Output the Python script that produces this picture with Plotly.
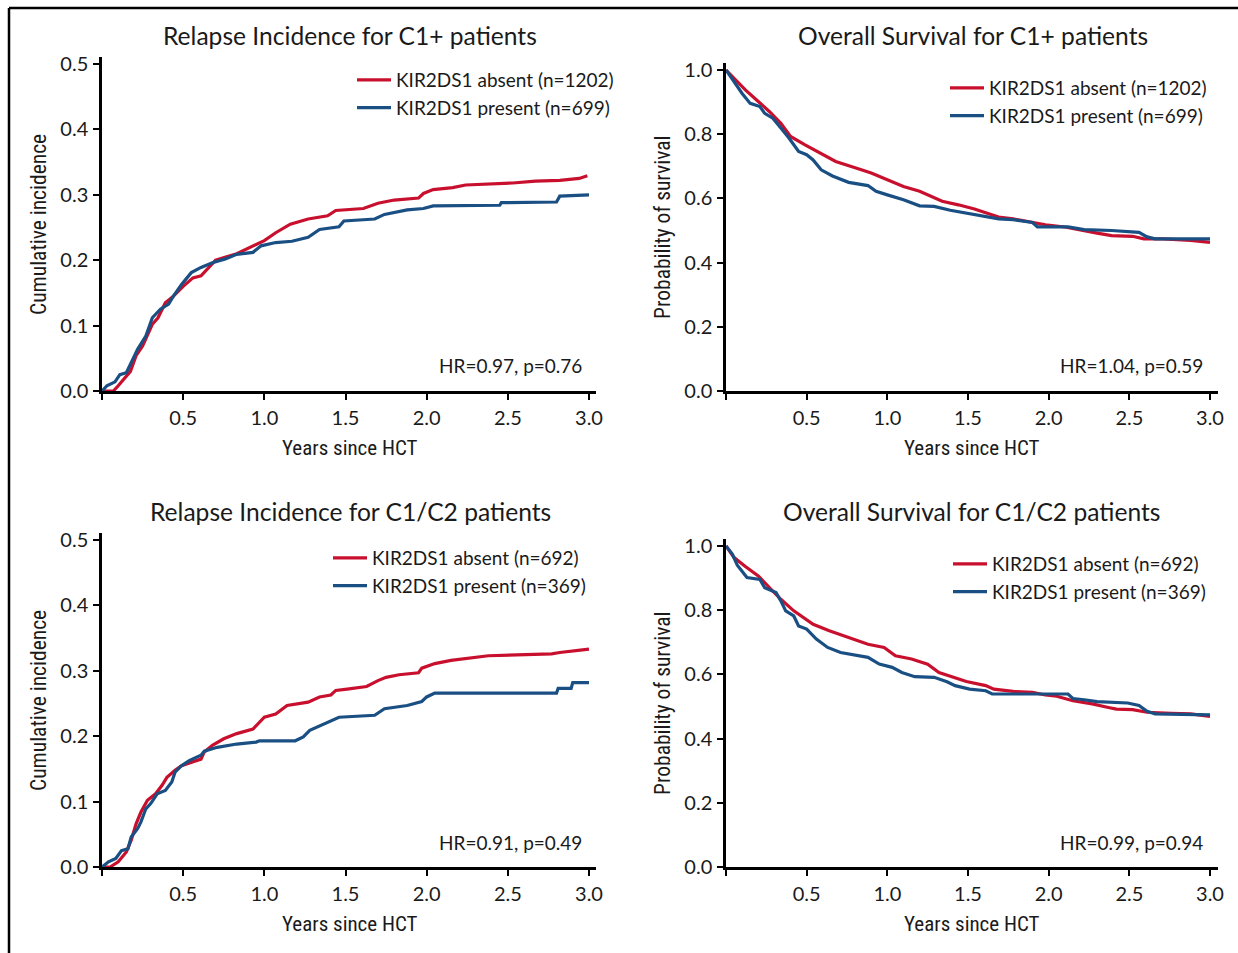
import plotly.graph_objects as go

W, H = 1238, 953

# ---------------- data ----------------
years_ticks = [0, 0.5, 1.0, 1.5, 2.0, 2.5, 3.0]
years_ticktext = ["", "0.5", "1.0", "1.5", "2.0", "2.5", "3.0"]

# Relapse, C1+
ri_c1_absent_t = [0, 0.07, 0.10, 0.175, 0.21, 0.25, 0.31, 0.345, 0.39, 0.44, 0.50, 0.56, 0.61, 0.66, 0.70, 0.83, 0.93, 1.00, 1.07, 1.16, 1.27, 1.39, 1.44, 1.61, 1.70, 1.80, 1.95, 1.98, 2.04, 2.16, 2.24, 2.38, 2.53, 2.67, 2.82, 2.94, 2.99]
ri_c1_absent_v = [0, 0, 0.008, 0.03, 0.054, 0.069, 0.102, 0.112, 0.135, 0.145, 0.16, 0.173, 0.176, 0.19, 0.20, 0.21, 0.222, 0.23, 0.242, 0.255, 0.263, 0.268, 0.276, 0.279, 0.287, 0.292, 0.295, 0.302, 0.308, 0.311, 0.315, 0.316, 0.318, 0.321, 0.322, 0.325, 0.329]
ri_c1_present_t = [0, 0.03, 0.08, 0.11, 0.15, 0.19, 0.22, 0.27, 0.31, 0.36, 0.41, 0.44, 0.49, 0.55, 0.61, 0.68, 0.76, 0.83, 0.93, 0.98, 1.07, 1.17, 1.27, 1.34, 1.46, 1.49, 1.68, 1.74, 1.88, 1.98, 2.04, 2.45, 2.46, 2.80, 2.82, 3.0]
ri_c1_present_v = [0, 0.008, 0.014, 0.025, 0.028, 0.048, 0.064, 0.084, 0.112, 0.125, 0.133, 0.145, 0.163, 0.181, 0.189, 0.196, 0.202, 0.209, 0.212, 0.222, 0.227, 0.229, 0.235, 0.247, 0.251, 0.26, 0.263, 0.27, 0.277, 0.279, 0.283, 0.284, 0.288, 0.289, 0.298, 0.30]

# Overall survival, C1+
os_c1_absent_t = [0, 0.05, 0.12, 0.20, 0.27, 0.34, 0.40, 0.49, 0.59, 0.68, 0.81, 0.90, 1.00, 1.10, 1.20, 1.27, 1.34, 1.44, 1.54, 1.61, 1.69, 1.78, 1.90, 1.98, 2.10, 2.22, 2.30, 2.39, 2.52, 2.59, 2.71, 2.88, 3.0]
os_c1_absent_v = [1.0, 0.974, 0.938, 0.902, 0.87, 0.834, 0.793, 0.767, 0.741, 0.715, 0.694, 0.679, 0.658, 0.637, 0.622, 0.606, 0.591, 0.58, 0.567, 0.555, 0.542, 0.536, 0.525, 0.518, 0.511, 0.501, 0.492, 0.484, 0.482, 0.474, 0.474, 0.469, 0.463]
os_c1_present_t = [0, 0.04, 0.10, 0.15, 0.21, 0.24, 0.29, 0.34, 0.39, 0.45, 0.50, 0.54, 0.59, 0.66, 0.76, 0.88, 0.93, 1.00, 1.10, 1.20, 1.29, 1.39, 1.49, 1.59, 1.69, 1.78, 1.90, 1.93, 2.12, 2.22, 2.39, 2.56, 2.61, 2.66, 3.0]
os_c1_present_v = [1.0, 0.969, 0.927, 0.896, 0.886, 0.865, 0.85, 0.819, 0.788, 0.746, 0.736, 0.72, 0.689, 0.67, 0.65, 0.64, 0.622, 0.611, 0.596, 0.577, 0.575, 0.563, 0.554, 0.544, 0.536, 0.534, 0.525, 0.511, 0.511, 0.503, 0.50, 0.494, 0.48, 0.474, 0.474]

# Relapse, C1/C2
ri_c12_absent_t = [0, 0.05, 0.10, 0.15, 0.18, 0.21, 0.24, 0.28, 0.33, 0.37, 0.40, 0.45, 0.49, 0.56, 0.61, 0.63, 0.68, 0.75, 0.83, 0.93, 1.00, 1.07, 1.14, 1.27, 1.34, 1.41, 1.44, 1.51, 1.63, 1.70, 1.75, 1.83, 1.95, 1.97, 2.05, 2.15, 2.24, 2.38, 2.77, 2.82, 2.96, 3.0]
ri_c12_absent_v = [0, 0, 0.008, 0.023, 0.041, 0.066, 0.084, 0.102, 0.112, 0.125, 0.137, 0.148, 0.155, 0.161, 0.165, 0.176, 0.186, 0.196, 0.204, 0.211, 0.229, 0.234, 0.247, 0.252, 0.26, 0.263, 0.27, 0.272, 0.276, 0.285, 0.29, 0.294, 0.297, 0.304, 0.311, 0.316, 0.319, 0.323, 0.326, 0.328, 0.332, 0.333]
ri_c12_present_t = [0, 0.04, 0.085, 0.12, 0.16, 0.18, 0.22, 0.24, 0.27, 0.30, 0.34, 0.39, 0.43, 0.45, 0.49, 0.54, 0.61, 0.63, 0.71, 0.83, 0.95, 0.97, 1.19, 1.24, 1.28, 1.34, 1.40, 1.46, 1.68, 1.74, 1.88, 1.97, 2.00, 2.05, 2.80, 2.81, 2.89, 2.90, 3.0]
ri_c12_present_v = [0, 0.008, 0.013, 0.025, 0.028, 0.046, 0.059, 0.069, 0.089, 0.097, 0.112, 0.117, 0.13, 0.145, 0.155, 0.163, 0.171, 0.177, 0.183, 0.188, 0.191, 0.193, 0.193, 0.199, 0.209, 0.216, 0.222, 0.229, 0.232, 0.242, 0.247, 0.253, 0.26, 0.266, 0.266, 0.273, 0.273, 0.282, 0.282]

# Overall survival, C1/C2
os_c12_absent_t = [0, 0.05, 0.12, 0.20, 0.27, 0.34, 0.42, 0.49, 0.54, 0.64, 0.73, 0.81, 0.88, 0.98, 1.05, 1.15, 1.25, 1.32, 1.42, 1.49, 1.61, 1.66, 1.78, 1.90, 1.98, 2.05, 2.15, 2.27, 2.37, 2.42, 2.52, 2.61, 2.76, 2.88, 3.0]
os_c12_absent_v = [1.0, 0.964, 0.936, 0.907, 0.87, 0.834, 0.798, 0.772, 0.756, 0.736, 0.72, 0.705, 0.694, 0.684, 0.658, 0.648, 0.632, 0.606, 0.591, 0.578, 0.565, 0.554, 0.547, 0.544, 0.536, 0.532, 0.518, 0.508, 0.497, 0.492, 0.49, 0.482, 0.479, 0.477, 0.469]
os_c12_present_t = [0, 0.04, 0.07, 0.13, 0.21, 0.24, 0.31, 0.34, 0.37, 0.42, 0.45, 0.50, 0.56, 0.63, 0.71, 0.81, 0.88, 0.95, 1.03, 1.09, 1.17, 1.29, 1.37, 1.42, 1.51, 1.61, 1.65, 2.12, 2.15, 2.22, 2.30, 2.49, 2.56, 2.61, 2.66, 3.0]
os_c12_present_v = [1.0, 0.974, 0.94, 0.902, 0.896, 0.87, 0.855, 0.829, 0.798, 0.782, 0.751, 0.741, 0.71, 0.684, 0.668, 0.658, 0.653, 0.632, 0.622, 0.606, 0.593, 0.591, 0.577, 0.565, 0.554, 0.549, 0.539, 0.539, 0.525, 0.521, 0.515, 0.511, 0.503, 0.485, 0.477, 0.474]

titles = ["Relapse Incidence for C1+ patients", "Overall Survival for C1+ patients",
          "Relapse Incidence for C1/C2 patients", "Overall Survival for C1/C2 patients"]
ytitles = ["Cumulative incidence", "Probability of survival",
           "Cumulative incidence", "Probability of survival"]
legend_labels = [("KIR2DS1 absent (n=1202)", "KIR2DS1 present (n=699)"),
                 ("KIR2DS1 absent (n=1202)", "KIR2DS1 present (n=699)"),
                 ("KIR2DS1 absent (n=692)", "KIR2DS1 present (n=369)"),
                 ("KIR2DS1 absent (n=692)", "KIR2DS1 present (n=369)")]
hr_texts = ["HR=0.97, p=0.76", "HR=1.04, p=0.59", "HR=0.91, p=0.49", "HR=0.99, p=0.94"]

series = [
    (ri_c1_absent_t, ri_c1_absent_v, ri_c1_present_t, ri_c1_present_v),
    (os_c1_absent_t, os_c1_absent_v, os_c1_present_t, os_c1_present_v),
    (ri_c12_absent_t, ri_c12_absent_v, ri_c12_present_t, ri_c12_present_v),
    (os_c12_absent_t, os_c12_absent_v, os_c12_present_t, os_c12_present_v),
]

RED = "#C8102E"
BLUE = "#1A4F84"
FONT = "Lato, 'Noto Sans', sans-serif"
NARROW = "'Roboto Condensed', 'DejaVu Sans Condensed', sans-serif"

# ---------------- layout geometry (pixels) ----------------
panels = [
    (102, 162.33, 3.045, 391, 654, 0.511),
    (726, 161.33, 3.05, 391, 321, 1.022),
    (102, 162.33, 3.045, 867, 654, 0.511),
    (726, 161.33, 3.05, 867, 321, 1.022),
]
legend_pos = [(352, 61), (945, 69), (328, 539), (948, 545)]
hr_pos = [(584, 365), (1205, 365), (584, 842), (1205, 842)]
title_pos = [(350, 35), (973, 35), (350, 511), (972, 511)]
xt_pos = [(350, 448), (972, 448), (350, 924), (972, 924)]
yt_pos = [(38, 225), (662, 228), (38, 701), (662, 704)]


def px(x):
    return x / W


def py(y):
    return 1 - y / H


fig = go.Figure()
layout = dict(width=W, height=H, autosize=False, margin=dict(l=0, r=0, t=0, b=0, pad=0),
              paper_bgcolor="white", plot_bgcolor="white",
              font=dict(family=FONT, color="#1a1a1a"), annotations=[], shapes=[])

for i, (x0, sx, xmax, y0, sy, ymax) in enumerate(panels):
    k = "" if i == 0 else str(i + 1)
    lg = "legend" if i == 0 else "legend" + str(i + 1)
    ta, va, tp, vp = series[i]
    fig.add_trace(go.Scatter(x=ta, y=va, mode="lines", line=dict(color=RED, width=3.2),
                             name=legend_labels[i][0], xaxis="x" + k, yaxis="y" + k,
                             legend=lg, legendgroup="a" + k))
    fig.add_trace(go.Scatter(x=tp, y=vp, mode="lines", line=dict(color=BLUE, width=3.2),
                             name=legend_labels[i][1], xaxis="x" + k, yaxis="y" + k,
                             legend=lg, legendgroup="p" + k))
    is_os = i % 2 == 1
    layout["xaxis" + k] = dict(
        domain=[px(x0), px(x0 + xmax * sx)], range=[0, xmax], anchor="y" + k, automargin=False,
        showgrid=False, zeroline=False, showline=True, linecolor="black", linewidth=2.5,
        ticks="outside", ticklen=6, tickwidth=2, tickcolor="black",
        tickvals=years_ticks, ticktext=years_ticktext,
        tickfont=dict(family=FONT, size=20, color="#1a1a1a"), ticklabelstandoff=1)
    yticks = [0, 0.2, 0.4, 0.6, 0.8, 1.0] if is_os else [0, 0.1, 0.2, 0.3, 0.4, 0.5]
    layout["yaxis" + k] = dict(
        domain=[py(y0), py(y0 - ymax * sy)], range=[0, ymax], anchor="x" + k, automargin=False,
        showgrid=False, zeroline=False, showline=True, linecolor="black", linewidth=2.5,
        ticks="outside", ticklen=6, tickwidth=2, tickcolor="black",
        tickvals=yticks, ticktext=["%.1f" % v for v in yticks],
        tickfont=dict(family=FONT, size=20, color="#1a1a1a"), ticklabelstandoff=1)
    lx, ly = legend_pos[i]
    layout[lg] = dict(x=px(lx), y=py(ly), xanchor="left", yanchor="top",
                      bgcolor="rgba(0,0,0,0)", borderwidth=0,
                      font=dict(family=FONT, size=19, color="#1a1a1a"),
                      itemwidth=34, tracegroupgap=4, traceorder="normal")
    hx, hy = hr_pos[i]
    layout["annotations"].append(dict(text=hr_texts[i], x=px(hx), y=py(hy), xref="paper", yref="paper",
                                      xanchor="right", yanchor="middle", showarrow=False,
                                      font=dict(family=FONT, size=19, color="#1a1a1a")))
    tx, ty = title_pos[i]
    layout["annotations"].append(dict(text=titles[i], x=px(tx), y=py(ty), xref="paper", yref="paper",
                                      xanchor="center", yanchor="middle", showarrow=False,
                                      font=dict(family=FONT, size=24.6, color="#1a1a1a")))
    ax, ay = xt_pos[i]
    layout["annotations"].append(dict(text="Years since HCT", x=px(ax), y=py(ay), xref="paper", yref="paper",
                                      xanchor="center", yanchor="middle", showarrow=False,
                                      font=dict(family=NARROW, size=21, color="#1a1a1a")))
    bx, by = yt_pos[i]
    layout["annotations"].append(dict(text=ytitles[i], x=px(bx), y=py(by), xref="paper", yref="paper",
                                      xanchor="center", yanchor="middle", showarrow=False, textangle=-90,
                                      font=dict(family=NARROW, size=21.5, color="#1a1a1a")))

# outer frame (top and left edges visible)
layout["shapes"].append(dict(type="line", xref="paper", yref="paper", x0=px(9), x1=1.0, y0=py(8), y1=py(8),
                             line=dict(color="black", width=2.5)))
layout["shapes"].append(dict(type="line", xref="paper", yref="paper", x0=px(9), x1=px(9), y0=py(8), y1=0,
                             line=dict(color="black", width=2.5)))

fig.update_layout(**layout)
fig.write_html("out.html", config={"displayModeBar": False, "responsive": False},
               post_script="document.body.style.margin='0';document.body.style.overflow='hidden';")
